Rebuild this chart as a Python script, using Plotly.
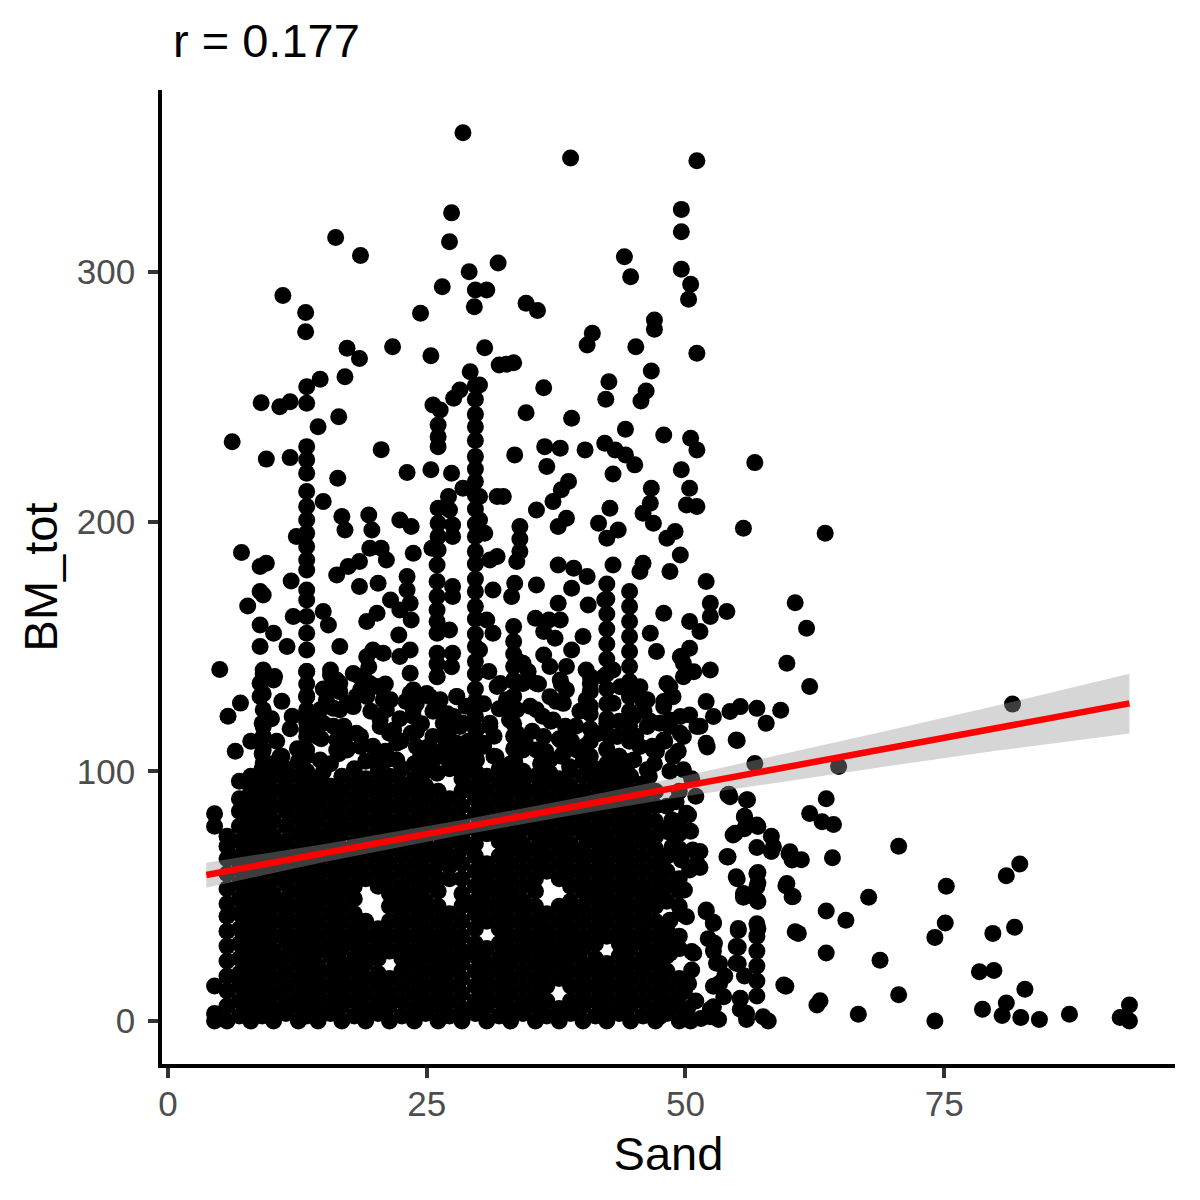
import plotly.graph_objects as go

# sparse points in the upper part of the cloud (Sand, BM_tot)
sand_top = [28.5, 27.4, 27.2, 16.2, 18.6, 29.1, 31.9, 26.5, 29.7, 30.8, 29.6, 11.1, 13.3, 13.3,
            24.4, 21.7, 25.4, 30.6, 17.3, 18.5, 17.1, 14.7, 13.4, 29.2, 32.0, 9.0, 10.8, 11.8,
            13.4, 16.5, 25.6, 26.3, 27.6, 28.2, 30.1,
            38.9, 51.1, 49.6, 49.6, 44.1, 44.7, 49.6, 50.5, 50.3, 34.6, 35.7, 47.0, 47.0, 41.0,
            40.5, 45.2, 51.1, 32.7, 33.4, 46.7, 36.3, 42.6, 42.3, 46.2, 45.7, 34.6, 39.0,
            14.5, 26.1, 6.2, 13.4, 26.1, 26.1, 20.6,
            33.5, 36.4, 37.9, 36.6, 40.3, 42.2, 43.2, 44.2, 45.1, 44.2, 47.9, 50.5, 51.1, 56.7, 49.6]
bm_top = [355.7, 323.6, 312.0, 313.7, 306.5, 300.0, 303.5, 294.0, 292.7, 292.7, 286.0, 290.5, 283.7, 276.0,
          283.4, 270.0, 266.4, 269.6, 269.4, 265.3, 258.0, 257.0, 254.0, 260.0, 262.7, 247.6, 246.0, 248.0,
          247.4, 242.0, 246.7, 244.7, 249.4, 252.7, 254.7,
          345.6, 344.5, 325.0, 316.0, 306.0, 298.0, 301.0, 295.0, 289.0, 287.4, 284.5, 280.7, 277.0, 275.4,
          270.7, 270.0, 267.4, 263.0, 263.6, 260.3, 253.6, 256.0, 249.0, 252.3, 248.3, 243.6, 241.4,
          238.0, 238.7, 232.0, 230.0, 234.0, 230.0, 228.8,
          226.7, 230.0, 229.4, 222.0, 228.7, 231.4, 228.7, 226.7, 222.7, 237.0, 234.7, 233.4, 228.7, 223.6, 220.7]

# left half, between the dense block and ~230
sand_midl = [9.5, 11.8, 13.4, 13.4, 16.4, 23.1, 25.4, 27.4,
             13.4, 15.0, 13.4, 27.1, 28.5, 30.1, 31.8,
             16.8, 17.1, 19.4, 19.7, 22.4, 23.5, 13.4, 13.4, 12.4, 26.1, 26.1, 27.2, 27.5, 30.1, 30.6,
             7.1, 9.5, 8.9, 11.9, 13.4, 13.4, 13.4, 16.3, 17.4, 18.5, 19.5, 20.6, 21.1, 23.7, 25.5, 26.0,
             31.1, 31.8, 27.5, 26.1, 26.1,
             8.9, 9.2, 7.7, 13.4, 13.4, 18.5, 20.3, 23.1, 23.1, 23.4, 21.5, 22.4, 26.0, 27.5, 27.5, 31.4,
             12.1, 13.4, 15.0, 15.5, 8.9, 10.2, 8.9, 11.5, 13.4, 13.4, 16.6, 19.2, 20.2, 22.3, 19.8, 20.8,
             23.4, 22.4, 23.5, 26.0, 26.0, 26.0, 27.2, 27.5, 31.4, 30.8, 30.1, 26.0, 26.0,
             5.0, 9.2, 10.3, 8.9, 13.4, 15.7, 16.6, 18.5, 19.4, 23.4, 27.4, 26.0, 26.0, 7.0, 5.8, 8.9,
             9.2, 9.1, 9.2, 13.4, 13.4, 13.4, 13.4, 13.4, 15.3, 16.6, 17.9, 20.5, 21.8, 23.7, 25.0, 26.3,
             27.9, 28.2, 31.1, 31.8, 20.2, 21.5, 19.2, 23.7,
             10.5, 11.8, 12.5, 14.8, 16.0, 17.2, 18.6, 19.8, 21.0, 22.5, 24.0, 25.2, 26.5, 27.5, 29.0,
             30.5, 31.5, 6.5, 8.0,
             10.0, 11.0, 12.0, 14.2, 15.0, 17.0, 18.2, 19.6, 21.0, 22.4, 23.0, 24.5, 25.6, 27.0, 28.8,
             30.5, 31.0, 32.0, 11.0, 16.5, 20.0, 24.4, 28.0, 31.5]
bm_midl = [225.0, 225.6, 224.7, 219.3, 217.3, 219.6, 220.7, 219.3,
           212.0, 208.0, 206.0, 210.0, 213.3, 210.0, 210.0,
           202.0, 196.6, 202.6, 196.6, 200.6, 198.0, 200.6, 195.3, 194.0, 205.3, 199.3, 204.6, 198.6, 200.6, 195.3,
           187.6, 183.3, 182.0, 176.2, 190.0, 184.6, 180.6, 178.6, 182.0, 184.0, 189.3, 189.3, 184.6, 187.3, 189.3, 182.6,
           184.6, 186.0, 194.0, 194.0, 188.6,
           172.0, 170.6, 166.2, 172.6, 168.6, 174.0, 175.3, 178.0, 172.6, 167.3, 168.6, 164.6, 176.0, 174.0, 170.0, 172.6,
           162.0, 162.0, 164.0, 158.6, 158.6, 155.3, 150.0, 150.0, 155.3, 148.6, 150.0, 160.0, 163.3, 154.6, 148.6, 147.3,
           148.6, 146.0, 160.6, 164.6, 155.3, 147.3, 156.6, 147.3, 155.3, 160.6, 148.6, 170.0, 160.0,
           140.8, 140.6, 138.0, 135.3, 140.0, 138.6, 135.3, 138.0, 141.9, 139.3, 141.9, 138.0, 143.0, 127.3, 122.0, 130.0,
           124.6, 119.2, 113.9, 130.0, 124.6, 119.4, 113.9, 135.0, 128.6, 124.6, 125.9, 120.5, 116.5, 124.6, 131.2, 128.6,
           130.0, 117.9, 119.2, 134.0, 134.0, 128.6, 130.0, 132.6,
           112.0, 117.0, 109.0, 113.0, 118.0, 110.0, 114.0, 110.0, 108.0, 112.0, 116.0, 110.0, 114.0, 109.0, 112.0,
           110.0, 114.0, 108.0, 112.0,
           121.0, 128.0, 122.0, 120.0, 133.0, 118.0, 130.0, 124.0, 135.0, 121.0, 128.0, 119.0, 124.0, 123.0, 126.0,
           127.0, 140.0, 125.0, 106.0, 107.0, 104.0, 106.0, 108.0, 106.0]

# vertical run of points at Sand ~29.7
sand_col = [29.7] * 27
bm_col = [254.5, 249.0, 243.0, 238.0, 232.5, 226.0, 221.0, 216.0, 210.5, 205.0, 199.0, 194.0, 188.0, 183.0,
          177.0, 172.0, 166.0, 161.0, 155.0, 150.0, 144.0, 139.0, 133.0, 128.0, 122.0, 117.0, 111.0]

# right half, between the dense block and ~230
sand_midr = [32.4, 38.7, 38.0, 37.2, 35.6, 43.0, 42.7, 41.6, 43.5, 42.4, 38.5, 37.7, 46.7, 46.6, 45.9, 46.9,
             50.4, 51.1, 50.1, 49.0, 48.2, 55.6, 63.5, 34.0, 34.0, 34.0, 49.5, 48.5, 45.9, 45.6, 43.0, 37.7,
             39.2, 40.5, 33.7, 33.5, 33.2, 35.6, 39.0, 52.0, 37.7, 40.6, 42.2, 47.9, 52.4, 52.4, 54.0, 50.4,
             51.4, 60.6, 61.7, 59.8, 62.0, 35.5, 36.8, 37.9, 36.3, 37.4, 40.1, 39.0, 38.5, 46.6, 47.2, 49.6,
             50.4, 36.3, 36.9, 52.4, 49.8, 50.8, 48.5, 47.9, 52.0, 52.7, 54.3, 55.3, 56.9, 57.8, 59.2, 54.9,
             52.0, 50.4, 51.1, 49.5, 47.5, 48.5, 51.4, 52.1, 55.0,
             33.4, 33.4, 33.4, 33.4, 33.4, 33.4, 33.4, 33.4, 33.4, 33.4,
             42.4, 42.4, 42.4, 42.4, 42.4, 42.4, 42.4, 42.4, 42.4, 42.4, 42.4, 42.4,
             44.6, 44.6, 44.6, 44.6, 44.6, 44.6, 44.6, 44.6, 44.6, 44.6, 44.6,
             35.8, 37.5, 36.2, 35.2, 37.8, 36.5, 38.4, 40.8, 40.8, 40.8, 39.4, 40.3,
             45.9, 46.6, 48.0, 49.3, 46.8,
             34.5, 35.0, 37.0, 39.0, 39.8, 41.5, 43.6, 45.2, 46.0, 47.2, 38.0, 34.8,
             33.5, 36.0, 38.0, 40.5, 47.0, 48.5, 46.5]
bm_midr = [210.0, 216.0, 212.7, 208.0, 204.6, 219.0, 205.3, 199.3, 196.6, 193.3, 201.3, 198.0, 213.3, 207.3, 203.3, 199.3,
           213.3, 206.0, 206.6, 196.0, 193.3, 197.3, 195.3, 198.0, 193.0, 188.0, 186.6, 180.0, 183.3, 180.0, 182.6, 182.6,
           181.3, 178.0, 184.0, 175.3, 170.0, 174.6, 173.3, 176.0, 167.3, 166.6, 168.6, 163.3, 167.3, 162.0, 164.0, 160.0,
           156.0, 167.5, 157.3, 143.3, 134.0, 161.3, 160.6, 160.6, 156.0, 153.3, 154.0, 148.6, 142.0, 155.3, 148.0, 146.0,
           149.3, 146.6, 142.0, 140.6, 137.9, 139.9, 133.9, 127.9, 127.9, 121.9, 123.9, 125.9, 125.2, 119.2, 124.4, 112.5,
           111.2, 122.5, 117.9, 115.2, 119.2, 120.5, 118.0, 109.7, 112.3,
           158.0, 152.0, 147.0, 142.0, 136.0, 130.0, 125.0, 119.0, 114.0, 109.0,
           175.0, 169.0, 163.0, 157.0, 151.0, 145.0, 139.0, 133.0, 127.0, 121.0, 115.0, 109.0,
           172.0, 166.0, 160.0, 154.0, 148.0, 142.0, 136.0, 130.0, 124.0, 118.0, 112.0,
           135.0, 128.0, 122.0, 116.0, 113.0, 108.0, 118.0, 138.0, 132.0, 126.0, 118.0, 110.0,
           128.0, 120.0, 112.0, 108.0, 110.0,
           112.0, 126.0, 120.0, 112.0, 124.0, 115.0, 120.0, 114.0, 124.0, 108.0, 135.0, 140.0,
           104.0, 103.0, 106.0, 103.0, 103.0, 100.0, 98.0]

# strip just above the dense block, BM_tot ~100-145
sand_edge = [9.2, 10.2, 9.2, 9.2, 9.2, 9.2, 9.2, 10.8, 13.4, 13.4, 13.4, 13.4, 13.4, 14.7, 15.0,
             15.7, 16.3, 15.7, 16.6, 17.3, 16.0, 14.7, 15.0, 14.4, 16.3, 16.9, 18.2, 18.6, 17.3, 16.3,
             18.9, 18.6, 19.5, 20.8, 20.8, 21.1, 19.2, 17.9, 20.5, 21.4, 22.1, 20.2, 21.1, 22.1,
             23.4, 24.0, 23.7, 23.5, 24.0, 24.7, 26.0, 25.3, 26.0, 26.6, 25.6, 26.6, 25.6, 26.0,
             27.9, 27.6, 27.2, 28.5, 27.9, 28.5, 27.2, 29.2, 28.2, 29.8, 31.1, 30.5, 31.7, 29.8, 29.8,
             32.1, 33.4, 34.3, 32.7, 33.7, 33.0, 33.7, 34.3, 33.4, 34.3, 33.7, 34.3,
             35.6, 36.9, 35.6, 37.9, 38.5, 38.2, 37.2, 36.3, 37.9, 38.8, 35.6, 36.9, 38.2, 39.5, 38.8, 36.9,
             40.4, 40.8, 40.4, 40.8, 40.8, 40.8, 40.8, 40.8,
             42.1, 43.0, 43.7, 43.0, 42.4, 43.4, 42.4, 43.7, 43.0,
             44.6, 45.6, 46.3, 45.0, 46.3, 44.6, 45.6, 46.9, 45.0, 46.3,
             48.2, 48.8, 47.9, 49.5, 48.5, 47.9, 49.8, 48.8, 49.8, 49.5, 49.8]
bm_edge = [139.0, 136.6, 131.0, 117.9, 113.9, 108.5, 103.2, 105.8, 140.0, 130.0, 123.0, 116.5, 108.5, 104.5, 99.8,
           140.6, 136.6, 133.9, 131.9, 127.2, 125.2, 124.6, 119.2, 113.9, 112.5, 113.9, 115.2, 109.9, 108.5, 108.5,
           137.9, 132.6, 135.2, 133.9, 128.6, 124.6, 145.9, 139.2, 117.9, 115.2, 111.2, 105.8, 104.5, 104.5,
           131.2, 127.2, 121.9, 115.2, 109.9, 104.5, 137.9, 129.9, 124.6, 119.2, 113.9, 108.5, 104.5, 99.2,
           129.9, 121.9, 116.5, 119.2, 111.2, 107.2, 103.2, 104.5, 100.6, 116.5, 117.9, 111.2, 105.8, 104.5, 99.2,
           135.2, 136.6, 135.2, 128.6, 124.6, 120.5, 115.2, 108.5, 103.2, 99.2, 144.6, 143.3,
           135.2, 129.9, 124.6, 136.6, 132.6, 127.2, 120.5, 113.9, 112.5, 116.5, 108.5, 104.5, 107.2, 108.5, 101.8, 99.2,
           140.6, 135.2, 128.6, 123.0, 117.0, 112.0, 106.0, 101.0,
           137.9, 140.6, 133.9, 127.2, 119.2, 113.9, 108.5, 104.5, 99.2,
           129.9, 133.9, 128.6, 121.9, 117.9, 113.9, 109.9, 108.5, 104.5, 100.6,
           135.2, 129.9, 125.9, 121.9, 117.9, 112.5, 113.9, 105.8, 100.6, 145.9, 143.3]

# sandy tail, Sand > ~47 and BM_tot below ~130
sand_tail = [56.7, 64.8, 81.6, 54.2, 56.0, 63.6, 55.7, 54.6, 57.0, 55.7, 58.3, 58.3, 62.0, 63.2, 64.3,
             51.4, 51.4, 54.1, 56.9, 60.0, 61.2, 64.2, 70.6, 55.0, 57.0, 57.0, 55.6, 57.0, 59.7, 60.4,
             63.6, 65.5, 67.7, 75.2, 81.0, 82.3, 75.1, 74.1, 79.7, 81.8, 78.4, 79.8, 82.8, 78.7, 81.0,
             80.6, 82.4, 84.2, 87.1, 92.9, 92.9, 92.0, 74.1, 70.6, 68.8, 66.7, 63.6, 60.9, 59.7, 62.7, 63.0,
             50.7, 51.1, 50.4, 49.9, 49.5, 50.1, 48.5, 50.6, 50.6, 49.9, 52.0, 52.7, 52.8, 53.0, 53.3,
             52.7, 52.4, 55.1, 54.9, 54.9, 55.3, 55.9, 57.5, 56.9, 56.9, 56.9, 56.9, 56.9, 56.9, 56.9,
             56.9, 55.6, 56.9, 59.8, 60.3, 54.9, 54.1, 60.1, 60.3, 55.7, 56.9, 58.5,
             52.0, 52.7, 52.2, 52.7, 53.3, 53.8, 52.7, 53.7, 52.4, 53.2, 55.1, 55.1, 55.1, 55.7, 55.3,
             55.3, 55.9, 58.0, 57.0, 50.5, 51.5, 50.2, 51.0, 50.3, 50.1, 50.5, 51.0, 50.6, 54.1, 55.9,
             60.6, 59.5,
             49.1, 48.7, 50.3, 48.3, 48.7, 49.6, 48.7, 48.5, 50.8, 47.9, 47.9, 47.5, 54.3, 54.8, 54.0]
bm_tail = [103.1, 101.9, 126.9, 90.8, 88.6, 89.0, 82.0, 74.5, 77.9, 77.0, 74.0, 67.9, 83.1, 79.8, 78.7,
           67.9, 61.5, 65.7, 69.5, 67.0, 64.6, 65.4, 70.0, 57.0, 59.5, 55.4, 49.6, 47.9, 54.2, 49.9,
           44.1, 40.4, 49.6, 54.0, 58.2, 62.9, 39.3, 33.5, 35.1, 37.6, 19.7, 20.2, 12.7, 4.7, 7.2,
           2.2, 1.4, 0.6, 2.7, 6.4, 0.0, 1.4, 0.0, 10.5, 24.3, 2.7, 27.2, 35.1, 13.9, 6.4, 8.1,
           68.5, 63.2, 60.5, 52.5, 43.1, 41.8, 40.4, 27.8, 20.4, 11.7, 44.5, 39.1, 31.1, 23.1, 15.1,
           5.7, 1.7, 37.1, 29.8, 23.1, 9.1, 3.1, 1.7, 39.0, 34.0, 28.0, 22.0, 16.0, 10.0, 59.1,
           53.8, 51.1, 48.5, 55.1, 49.8, 57.8, 65.8, 67.8, 64.5, 81.8, 78.5, 69.8,
           43.8, 39.6, 33.0, 28.0, 23.0, 18.0, 13.9, 9.7, 4.7, 0.6, 36.3, 29.6, 23.0, 18.0, 8.9,
           4.7, 0.6, 0.0, 37.1, 0.0, 1.0, 5.0, 8.0, 15.0, 83.2, 76.0, 90.0, 97.0, 90.5, 88.5,
           35.8, 14.4,
           87.8, 80.5, 82.5, 75.8, 69.8, 64.5, 32.4, 27.1, 27.1, 20.4, 13.7, 1.7, 89.8, 75.2, 65.8]

# dense block: Sand value of each run and the BM_tot values stacked on it
core_sand = [4.5, 5.7, 6.9, 8.0, 9.1, 10.2, 11.4, 12.6, 13.4, 14.5, 15.7, 16.8, 18.0, 19.1, 20.3,
             21.4, 22.6, 23.8, 24.9, 26.1, 27.2, 28.4, 29.7, 30.8, 32.0, 33.1, 34.3, 35.5, 36.6, 37.8,
             38.9, 40.1, 41.3, 42.4, 43.6, 44.7, 45.9, 47.1, 48.2, 49.4]
core_bm = [
    [0, 3, 14, 78, 83],
    [0, 6, 12, 18, 24, 30, 36, 42, 47, 53, 59, 65, 70, 74],
    [2, 8, 14, 19, 25, 31, 37, 43, 49, 55, 61, 66, 72, 78, 84, 89, 96],
    [0, 6, 11, 17, 23, 29, 34, 40, 46, 52, 57, 63, 69, 75, 81, 87, 92, 98],
    [2, 8, 14, 20, 26, 31, 37, 43, 49, 54, 60, 66, 72, 78, 83, 89, 95, 101, 107],
    [0, 5, 11, 17, 23, 28, 34, 40, 46, 51, 57, 63, 69, 74, 80, 86, 92, 98, 103],
    [3, 8, 14, 20, 26, 32, 37, 43, 49, 55, 60, 66, 72, 78, 84, 89, 95, 101],
    [0, 6, 11, 17, 23, 29, 34, 40, 46, 52, 58, 63, 69, 75, 81, 87, 92, 98, 104],
    [2, 8, 14, 20, 25, 31, 37, 43, 48, 54, 60, 66, 71, 77, 83, 89, 94, 100, 106],
    [0, 5, 11, 17, 22, 28, 34, 40, 46, 51, 57, 63, 69, 74, 80, 86, 91, 97],
    [3, 8, 14, 20, 26, 31, 37, 43, 49, 54, 60, 66, 72, 77, 83, 89, 94, 103],
    [0, 6, 11, 17, 23, 29, 34, 40, 46, 52, 57, 63, 69, 75, 80, 86, 92, 98],
    [2, 8, 14, 20, 25, 31, 37, 43, 49, 54, 60, 66, 71, 77, 83, 89, 95, 101],
    [0, 5, 11, 17, 23, 28, 34, 40, 57, 63, 69, 74, 80, 86, 92, 97, 104],
    [3, 8, 14, 19, 25, 31, 37, 54, 60, 66, 71, 77, 83, 89, 94, 100],
    [0, 6, 11, 17, 28, 34, 40, 46, 51, 57, 63, 69, 75, 80, 86, 92, 98, 105],
    [2, 8, 14, 20, 25, 31, 37, 43, 49, 54, 60, 66, 72, 77, 83, 89, 95, 101],
    [0, 5, 11, 17, 23, 28, 34, 40, 46, 51, 57, 63, 69, 74, 80, 86, 92, 97, 103],
    [3, 8, 14, 20, 26, 31, 37, 43, 48, 54, 60, 66, 71, 77, 83, 89, 94, 100],
    [0, 6, 11, 17, 23, 29, 34, 40, 46, 52, 57, 63, 69, 75, 80, 86, 92, 106],
    [2, 8, 14, 20, 25, 31, 37, 43, 57, 62, 66, 72, 77, 83, 89, 101],
    [0, 5, 11, 17, 23, 28, 34, 40, 46, 51, 57, 63, 69, 74, 80, 86, 92, 97, 104],
    [3, 8, 14, 20, 26, 31, 37, 43, 48, 54, 60, 66, 71, 77, 83, 89, 94, 100, 106],
    [0, 6, 11, 17, 23, 29, 40, 46, 52, 57, 63, 75, 80, 86, 92, 98],
    [2, 8, 14, 20, 25, 31, 37, 43, 49, 54, 60, 66, 72, 77, 83, 89, 95, 101],
    [0, 5, 11, 17, 23, 28, 34, 40, 46, 51, 57, 63, 69, 74, 80, 86, 92, 97, 103],
    [3, 8, 14, 20, 26, 31, 37, 43, 48, 54, 60, 66, 71, 77, 83, 89, 94, 100],
    [0, 6, 11, 17, 23, 29, 34, 40, 46, 52, 57, 63, 69, 75, 80, 86, 92, 98],
    [2, 8, 14, 20, 25, 31, 37, 43, 60, 66, 72, 77, 83, 89, 95, 101],
    [0, 5, 17, 23, 28, 34, 40, 46, 57, 63, 69, 74, 80, 86, 92, 97],
    [3, 8, 14, 20, 26, 31, 37, 43, 48, 54, 60, 66, 71, 77, 83, 89, 94, 100],
    [0, 6, 11, 17, 23, 29, 34, 40, 46, 52, 57, 63, 69, 75, 80, 86, 92, 98, 104],
    [2, 8, 14, 20, 25, 31, 37, 43, 49, 54, 60, 66, 72, 77, 83, 89, 95, 101],
    [0, 5, 11, 17, 23, 34, 40, 46, 51, 57, 63, 69, 74, 80, 86, 92, 97, 103],
    [3, 8, 14, 20, 26, 31, 37, 43, 48, 54, 60, 66, 71, 77, 83, 89, 94, 100, 106],
    [0, 6, 11, 17, 23, 29, 34, 40, 46, 52, 57, 63, 69, 75, 80, 86, 92, 98, 104],
    [2, 8, 14, 20, 25, 31, 37, 43, 49, 54, 60, 66, 72, 77, 83, 89, 95],
    [0, 5, 11, 17, 23, 28, 34, 40, 46, 51, 57, 63, 69, 74, 80, 86, 92],
    [3, 8, 14, 20, 26, 31, 37, 48, 54, 60, 66, 77, 86],
    [0, 6, 11, 17, 29, 34, 46, 52, 57, 69, 75, 80, 92],
]

# linear fit and its confidence band
fit_x = [3.7, 92.9]
fit_y = [58.5, 127.2]
band_x = [3.7, 15, 28, 40, 50, 60, 70, 80, 92.9]
band_lo = [53.4, 63.6, 74.2, 83.1, 90.0, 96.3, 102.3, 108.2, 115.1]
band_hi = [63.4, 70.8, 80.2, 89.7, 98.2, 107.3, 116.7, 126.2, 139.1]

sand = sand_top + sand_midl + sand_col + sand_midr + sand_edge + sand_tail
bm = bm_top + bm_midl + bm_col + bm_midr + bm_edge + bm_tail
for sx, ys in zip(core_sand, core_bm):
    sand += [sx] * len(ys)
    bm += ys

font = 'Liberation Sans, Arial, sans-serif'

points = go.Scatter(
    x=sand, y=bm, mode='markers',
    marker=dict(color='black', size=17, line=dict(width=0)),
    hoverinfo='skip', showlegend=False,
)

band = go.Scatter(
    x=band_x + band_x[::-1], y=band_hi + band_lo[::-1],
    fill='toself', fillcolor='rgba(153,153,153,0.4)',
    line=dict(width=0), mode='lines', hoverinfo='skip', showlegend=False,
)

fit = go.Scatter(
    x=fit_x, y=fit_y, mode='lines',
    line=dict(color='#FF0000', width=6.5),
    hoverinfo='skip', showlegend=False,
)

fig = go.Figure(data=[points, band, fit])

axis_style = dict(
    showline=True, linecolor='black', linewidth=3.5, mirror=False,
    ticks='outside', ticklen=10, tickwidth=3.5, tickcolor='#333333',
    tickfont=dict(family=font, size=35, color='#4D4D4D'),
    showgrid=False, zeroline=False, automargin=False,
)

# the page puts the plot 8px in from the top-left corner, margins allow for that
fig.update_layout(
    width=1200, height=1200,
    template='none',
    paper_bgcolor='white', plot_bgcolor='white',
    margin=dict(l=154, r=33, t=82, b=144),
    font=dict(family=font, color='black'),
    title=dict(text='r = 0.177', x=165 / 1200, xanchor='left', xref='container',
               y=1 - 33 / 1200, yanchor='middle', yref='container',
               font=dict(family=font, size=47, color='black')),
    xaxis=dict(range=[-0.58, 97.3], tickvals=[0, 25, 50, 75], ticklabelstandoff=-4,
               title=dict(text='Sand', font=dict(family=font, size=47, color='black'), standoff=16),
               **axis_style),
    yaxis=dict(range=[-17.2, 372.8], tickvals=[0, 100, 200, 300], ticklabelstandoff=6,
               title=dict(text='BM_tot', font=dict(family=font, size=47, color='black'), standoff=5),
               **axis_style),
)

fig.write_html("out.html")
